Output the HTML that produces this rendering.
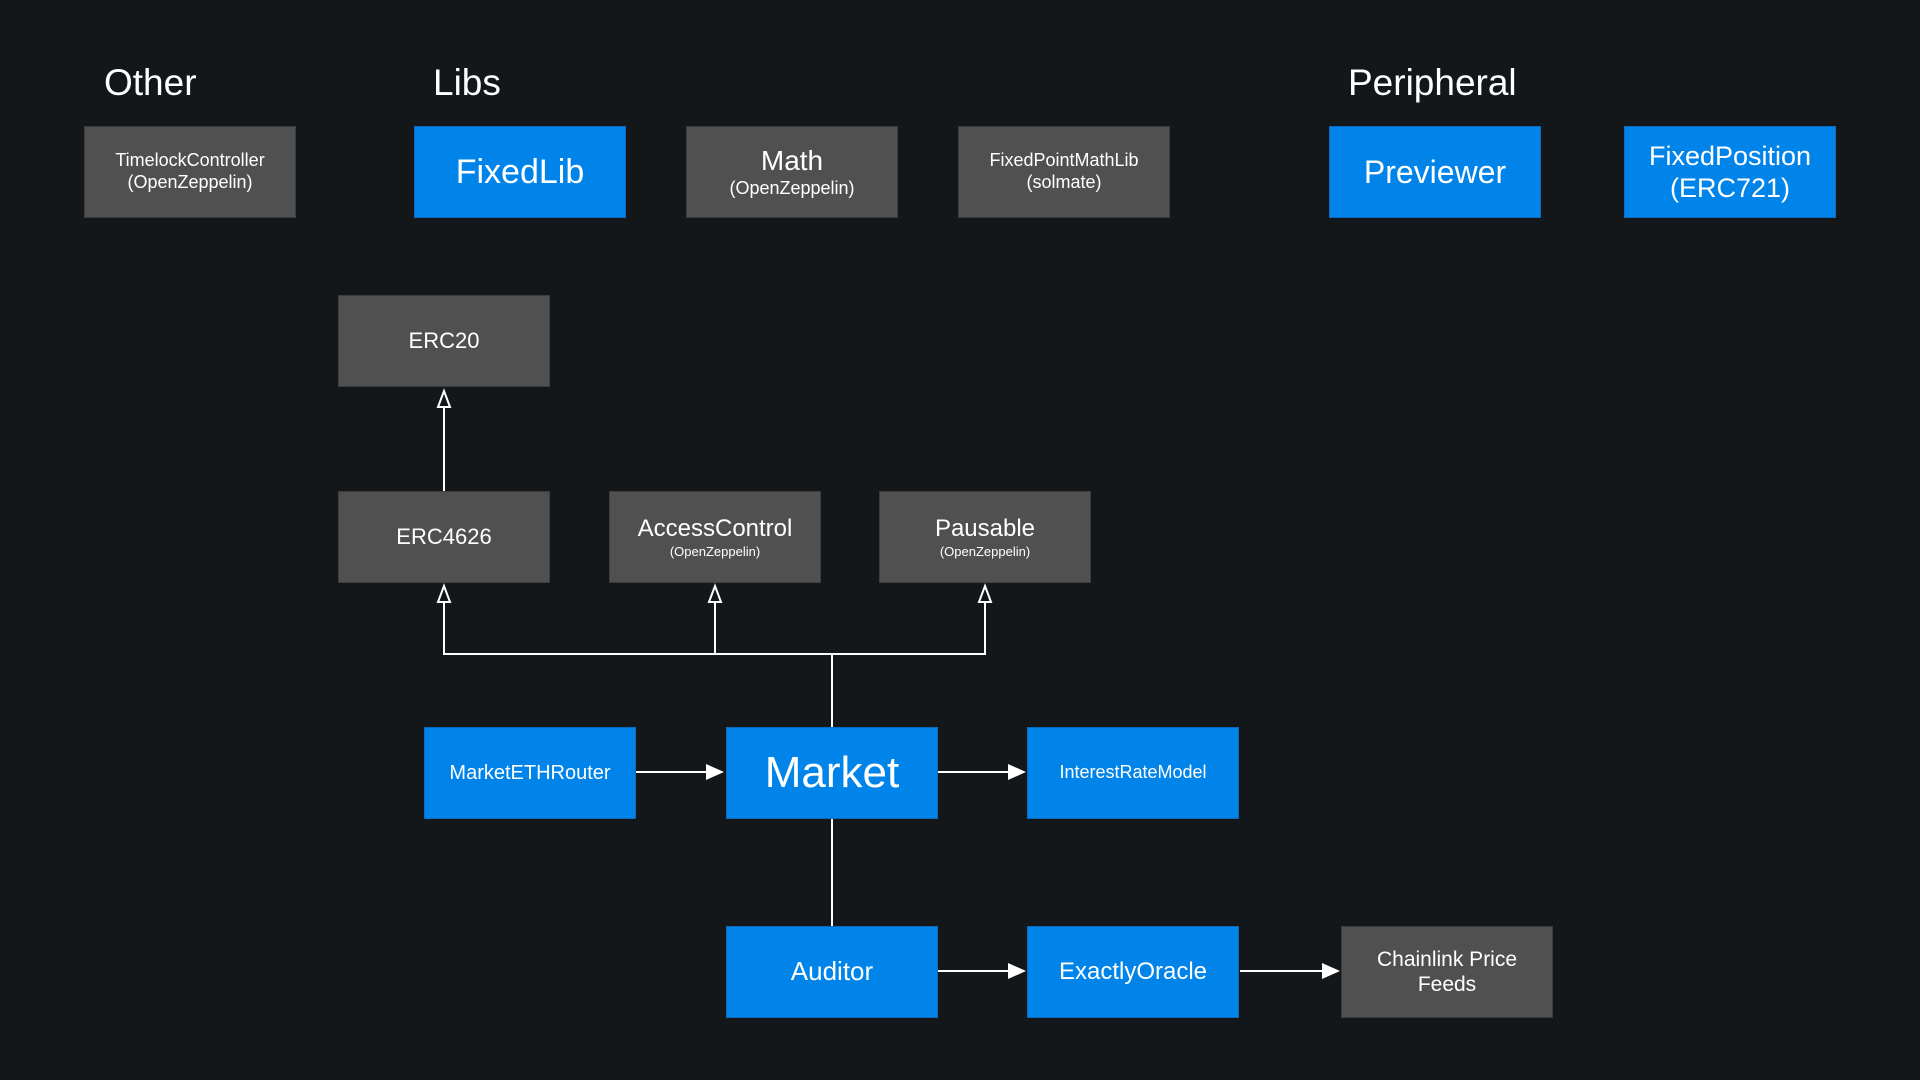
<!DOCTYPE html>
<html><head><style>
body{margin:0;width:1920px;height:1080px;background:#13171a;font-family:"Liberation Sans",sans-serif;overflow:hidden;position:relative}
.b{position:absolute;width:212px;height:92px;box-sizing:border-box;display:flex;flex-direction:column;align-items:center;justify-content:center;color:#fff;text-align:center;line-height:1.2}
.g{background:#505050;border:1px solid #3c3c3c}
.u{background:#0084ea;border:1px solid #0a6cc0}
.h{position:absolute;color:#fff;font-size:37px}
svg{position:absolute;left:0;top:0}
</style></head><body>
<div class="h" style="left:104px;top:62px">Other</div>
<div class="h" style="left:433px;top:62px">Libs</div>
<div class="h" style="left:1348px;top:62px">Peripheral</div>

<div class="b g" style="left:84px;top:126px;font-size:18px">TimelockController<br>(OpenZeppelin)</div>
<div class="b u" style="left:414px;top:126px;font-size:34px">FixedLib</div>
<div class="b g" style="left:686px;top:126px"><span style="font-size:28px">Math</span><span style="font-size:18px">(OpenZeppelin)</span></div>
<div class="b g" style="left:958px;top:126px;font-size:18px">FixedPointMathLib<br>(solmate)</div>
<div class="b u" style="left:1329px;top:126px;font-size:32px">Previewer</div>
<div class="b u" style="left:1624px;top:126px;font-size:27px">FixedPosition<br>(ERC721)</div>

<div class="b g" style="left:338px;top:295px;font-size:22px">ERC20</div>
<div class="b g" style="left:338px;top:491px;font-size:22px">ERC4626</div>
<div class="b g" style="left:609px;top:491px"><span style="font-size:24px">AccessControl</span><span style="font-size:13px">(OpenZeppelin)</span></div>
<div class="b g" style="left:879px;top:491px"><span style="font-size:24px">Pausable</span><span style="font-size:13px">(OpenZeppelin)</span></div>

<div class="b u" style="left:424px;top:727px;font-size:20px">MarketETHRouter</div>
<div class="b u" style="left:726px;top:727px;font-size:44px">Market</div>
<div class="b u" style="left:1027px;top:727px;font-size:18px">InterestRateModel</div>

<div class="b u" style="left:726px;top:926px;font-size:26px">Auditor</div>
<div class="b u" style="left:1027px;top:926px;font-size:24px">ExactlyOracle</div>
<div class="b g" style="left:1341px;top:926px;font-size:21px">Chainlink Price<br>Feeds</div>

<svg width="1920" height="1080" fill="none" stroke="#fff" stroke-width="2">
<path d="M444 491V400"/><path d="M444 391l-6 16h12z" fill="#13171a"/>
<path d="M832 727V654H444V600M715 654V600M832 654H985V600"/>
<path d="M444 586l-6 16h12z M715 586l-6 16h12z M985 586l-6 16h12z" fill="#13171a"/>
<path d="M832 819V926"/>
<path d="M636 772H708M938 772H1010M938 971H1010M1240 971H1322"/>
<path d="M724 772l-18-8v16zM1026 772l-18-8v16zM1026 971l-18-8v16zM1340 971l-18-8v16z" fill="#fff" stroke="none"/>
</svg>
</body></html>
